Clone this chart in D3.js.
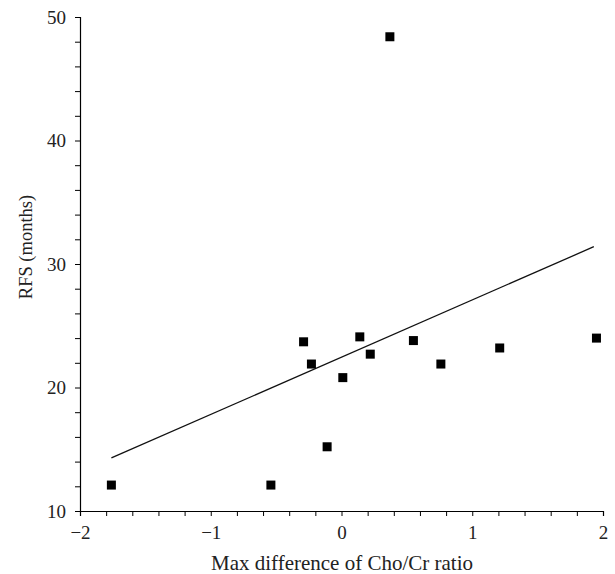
<!DOCTYPE html>
<html>
<head>
<meta charset="utf-8">
<script src="https://cdn.jsdelivr.net/npm/d3@7"></script>
<style>
  body { margin: 0; background: #fff; }
  svg text { font-family: "Liberation Serif", "DejaVu Serif", serif; fill: #222; }
</style>
</head>
<body>
<div id="chart"></div>
<script>
// Valores
const choCrDiff = [-1.76, -0.54, -0.29, -0.23, -0.11, 0.01, 0.14, 0.22, 0.37, 0.55, 0.76, 1.21, 1.95];
const rfsMonths = [12.1, 12.1, 23.7, 21.9, 15.2, 20.8, 24.1, 22.7, 48.4, 23.8, 21.9, 23.2, 24.0];

// Reta de regressão (extremos)
const fitX = [-1.76, 1.93];
const fitY = [14.3, 31.4];

const xTicks = [-2, -1, 0, 1, 2];
const yTicks = [10, 20, 30, 40, 50];

const width = 615, height = 574;
const margin = { top: 17, right: 12, bottom: 63, left: 80 };

const svg = d3.select('#chart')
    .append('svg')
    .attr('width', width)
    .attr('height', height);

const x = d3.scaleLinear().domain([-2, 2]).range([margin.left, width - margin.right]);
const y = d3.scaleLinear().domain([10, 50]).range([height - margin.bottom, margin.top]);

// Eixo X com ticks menores
const xAxis = svg.append('g')
    .attr('transform', `translate(0,${height - margin.bottom})`)
    .call(d3.axisBottom(x)
        .tickValues(d3.range(-2, 2.001, 0.2))
        .tickSize(5)
        .tickFormat(d => xTicks.some(t => Math.abs(t - d) < 1e-6) ? d3.format('d')(Math.round(d)).replace('-', '\u2212') : ''));
xAxis.select('.domain').attr('stroke', '#000').attr('stroke-width', 1.2);
xAxis.selectAll('.tick line').attr('stroke', '#000');
xAxis.selectAll('.tick text')
    .attr('font-size', '19px')
    .attr('dy', '1.05em');

// Eixo Y com ticks menores
const yAxis = svg.append('g')
    .attr('transform', `translate(${margin.left},0)`)
    .call(d3.axisLeft(y)
        .tickValues(d3.range(10, 50.001, 2))
        .tickSize(5)
        .tickFormat(d => yTicks.includes(Math.round(d)) && Math.abs(d % 10) < 1e-6 ? d : ''));
yAxis.select('.domain').attr('stroke', '#000').attr('stroke-width', 1.2);
yAxis.selectAll('.tick line').attr('stroke', '#000');
yAxis.selectAll('.tick text')
    .attr('font-size', '19px')
    .attr('x', -14);

// Reta
svg.append('line')
    .attr('x1', x(fitX[0]))
    .attr('y1', y(fitY[0]))
    .attr('x2', x(fitX[1]))
    .attr('y2', y(fitY[1]))
    .attr('stroke', '#111')
    .attr('stroke-width', 1.3);

// Pontos
const s = 9;
svg.selectAll('rect.pt')
    .data(choCrDiff)
    .enter()
    .append('rect')
    .attr('class', 'pt')
    .attr('x', d => x(d) - s / 2)
    .attr('y', (d, i) => y(rfsMonths[i]) - s / 2)
    .attr('width', s)
    .attr('height', s)
    .attr('fill', '#000');

// Títulos dos eixos
svg.append('text')
    .attr('x', 342)
    .attr('y', 570)
    .attr('text-anchor', 'middle')
    .attr('font-size', '21px')
    .text('Max difference of Cho/Cr ratio');

svg.append('text')
    .attr('transform', 'translate(32,247) rotate(-90)')
    .attr('text-anchor', 'middle')
    .attr('font-size', '18.5px')
    .text('RFS (months)');
</script>
</body>
</html>
